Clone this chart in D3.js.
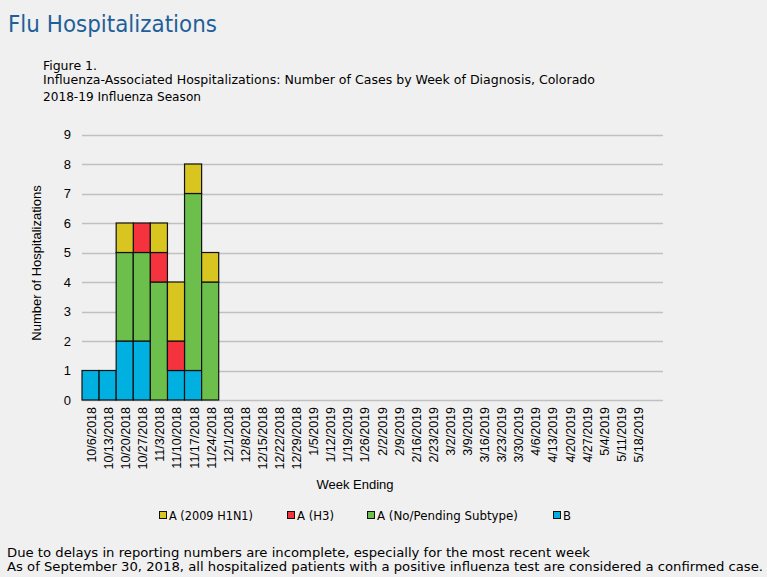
<!DOCTYPE html>
<html><head><meta charset="utf-8">
<script src="https://cdn.jsdelivr.net/npm/d3@7"></script>
<style>
html,body{margin:0;padding:0;background:#f0f0f0;}
svg{display:block;}
</style></head>
<body>
<svg id="c" width="767" height="577"></svg>
<script>
const weeks = ["10/6/2018","10/13/2018","10/20/2018","10/27/2018","11/3/2018","11/10/2018","11/17/2018","11/24/2018","12/1/2018","12/8/2018","12/15/2018","12/22/2018","12/29/2018","1/5/2019","1/12/2019","1/19/2019","1/26/2019","2/2/2019","2/9/2019","2/16/2019","2/23/2019","3/2/2019","3/9/2019","3/16/2019","3/23/2019","3/30/2019","4/6/2019","4/13/2019","4/20/2019","4/27/2019","5/4/2019","5/11/2019","5/18/2019",""];
const seriesNames = ["B","A (No/Pending Subtype)","A (H3)","A (2009 H1N1)"];
const valB       = [1,1,2,2,0,1,1,0];
const valPending = [0,0,3,3,4,0,6,4];
const valH3      = [0,0,0,1,1,1,0,0];
const valH1N1    = [0,0,1,0,1,2,1,1];
const colors = {"B":"#00b0e0","A (No/Pending Subtype)":"#6cbf4a","A (H3)":"#f5333f","A (2009 H1N1)":"#d8c520"};
const legendOrder = ["A (2009 H1N1)","A (H3)","A (No/Pending Subtype)","B"];
const yTicks = [0,1,2,3,4,5,6,7,8,9];

const table = weeks.map((w,i)=>({idx:i,week:w,
  "B":valB[i]||0,"A (No/Pending Subtype)":valPending[i]||0,"A (H3)":valH3[i]||0,"A (2009 H1N1)":valH1N1[i]||0}));

const svg = d3.select("#c");
const pLeft=82, pRight=663, pTop=134.5, pBottom=400;
const x = d3.scaleBand().domain(weeks.map((w,i)=>i)).range([pLeft,pRight]).padding(0);
const y = d3.scaleLinear().domain([0,9]).range([pBottom,pTop]);

const tfont = "Tahoma, 'DejaVu Sans Condensed', 'DejaVu Sans', sans-serif";
const afont = "Arial, 'Liberation Sans', sans-serif";

// Titles
svg.append("text").attr("x",8).attr("y",32).attr("font-family",tfont).attr("font-size",23)
  .attr("fill","#1f5f99").attr("textLength",209).attr("lengthAdjust","spacingAndGlyphs").text("Flu Hospitalizations");
svg.append("text").attr("x",43).attr("y",70).attr("font-family",tfont).attr("font-size",12.5)
  .attr("fill","#000").attr("textLength",54).attr("lengthAdjust","spacingAndGlyphs").text("Figure 1.");
svg.append("text").attr("x",43).attr("y",84).attr("font-family",tfont).attr("font-size",12.5)
  .attr("fill","#000").attr("textLength",552).attr("lengthAdjust","spacingAndGlyphs")
  .text("Influenza-Associated Hospitalizations: Number of  Cases by Week of Diagnosis, Colorado");
svg.append("text").attr("x",43).attr("y",101).attr("font-family",tfont).attr("font-size",12.5)
  .attr("fill","#000").attr("textLength",158).attr("lengthAdjust","spacingAndGlyphs").text("2018-19  Influenza Season");

// gridlines
svg.append("g").selectAll("line").data(yTicks).join("line")
  .attr("x1",pLeft).attr("x2",pRight).attr("y1",d=>Math.round(y(d))+0.5).attr("y2",d=>Math.round(y(d))+0.5)
  .attr("stroke","#c0c0c0").attr("stroke-width",1.5);

// y axis labels
const yAxis = d3.axisLeft(y).tickValues(yTicks).tickSize(0).tickPadding(0).tickFormat(d3.format("d"));
const yg = svg.append("g").attr("transform",`translate(${71},0)`).call(yAxis);
yg.select(".domain").remove();
yg.selectAll("text").attr("font-family",afont).attr("font-size",13).attr("fill","#000");

// bars
const stack = d3.stack().keys(seriesNames)(table);
svg.append("g").selectAll("g").data(stack).join("g").attr("fill",d=>colors[d.key])
  .selectAll("rect").data(d=>d.filter(s=>s[1]-s[0]>0)).join("rect")
  .attr("x",d=>x(d.data.idx))
  .attr("width",x.bandwidth())
  .attr("y",d=>y(d[1])).attr("height",d=>y(d[0])-y(d[1]))
  .attr("stroke","#111").attr("stroke-width",1.2);

// x axis
const xAxis = d3.axisBottom(x).tickSize(0).tickPadding(0).tickFormat(i=>weeks[i]);
const xg = svg.append("g").attr("transform",`translate(0,${pBottom})`).call(xAxis);
xg.select(".domain").remove();
xg.selectAll("text").attr("font-family",afont).attr("font-size",12.5).attr("fill","#000")
  .attr("text-anchor","end").attr("dy",null)
  .attr("transform","translate(1.5,7) rotate(-90)").attr("y",0).attr("x",0).attr("dominant-baseline","central");

// axis titles
svg.append("text").attr("transform","translate(41,263) rotate(-90)").attr("text-anchor","middle")
  .attr("font-family",afont).attr("font-size",13).attr("fill","#000").text("Number of Hospitalizations");
svg.append("text").attr("x",355).attr("y",489).attr("text-anchor","middle")
  .attr("font-family",afont).attr("font-size",13).attr("fill","#000").text("Week Ending");

// legend
const legX = {"A (2009 H1N1)":159,"A (H3)":287,"A (No/Pending Subtype)":367,"B":553};
const legW = {"A (2009 H1N1)":84,"A (H3)":37,"A (No/Pending Subtype)":141,"B":8};
const lg = svg.append("g").selectAll("g").data(legendOrder).join("g")
  .attr("transform",d=>`translate(${legX[d]},515)`);
lg.append("rect").attr("x",0.5).attr("y",-3.5).attr("width",7).attr("height",7)
  .attr("fill",d=>colors[d]).attr("stroke","#111").attr("stroke-width",1);
lg.append("text").attr("x",10).attr("y",4.5).attr("font-family",tfont).attr("font-size",12.5).attr("fill","#000")
  .attr("textLength",d=>legW[d]).attr("lengthAdjust","spacingAndGlyphs").text(d=>d);

// footnotes
svg.append("text").attr("x",7).attr("y",557).attr("font-family",tfont).attr("font-size",13).attr("fill","#000")
  .attr("textLength",583).attr("lengthAdjust","spacingAndGlyphs")
  .text("Due to delays in reporting numbers are incomplete, especially for the most recent week");
svg.append("text").attr("x",7).attr("y",571).attr("font-family",tfont).attr("font-size",13).attr("fill","#000")
  .attr("textLength",756).attr("lengthAdjust","spacingAndGlyphs")
  .text("As of September 30, 2018, all hospitalized patients with a positive influenza test are considered a confirmed case.");
</script>
</body></html>
